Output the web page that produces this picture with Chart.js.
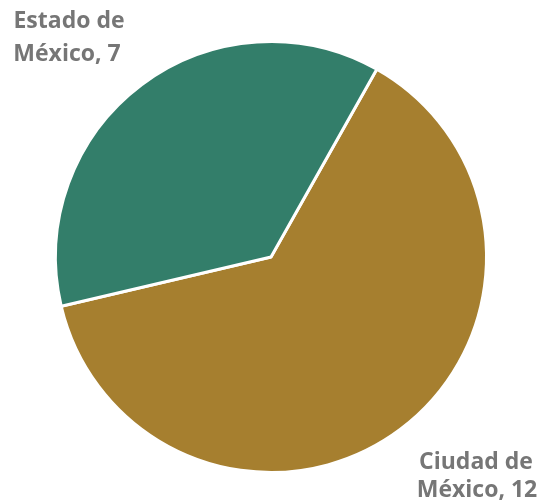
<!DOCTYPE html>
<html>
<head>
<meta charset="utf-8">
<script src="https://cdn.jsdelivr.net/npm/chart.js@4"></script>
<style>
    html, body { margin: 0; padding: 0; background: #fff; }
    #wrap { width: 541px; height: 503px; }
</style>
</head>
<body>
<div id="wrap"><canvas id="chart" width="541" height="503"></canvas></div>
<script>
const categories = ['Ciudad de México', 'Estado de México'];
const values = [12, 7];
const sliceColors = ['#a67f2f', '#337e6a'];

// label text lines and where they sit (relative to canvas)
const labelLines = [
    [{ text: 'Ciudad de', x: 476, y: 462 }, { text: 'México, 12', x: 477, y: 490 }],
    [{ text: 'Estado de', x: 69, y: 21 }, { text: 'México, 7', x: 67, y: 54 }]
];

const outerLabels = {
    id: 'outerLabels',
    afterDraw(chart) {
        const ctx = chart.ctx;
        ctx.save();
        ctx.font = 'bold 23px "Open Sans"';
        ctx.fillStyle = '#767676';
        ctx.textAlign = 'center';
        ctx.textBaseline = 'middle';
        labelLines.forEach(lines => lines.forEach(l => ctx.fillText(l.text, l.x, l.y)));
        ctx.restore();
    }
};

new Chart(document.getElementById('chart').getContext('2d'), {
    type: 'pie',
    data: {
        labels: categories,
        datasets: [{
            data: values,
            backgroundColor: sliceColors,
            borderColor: '#ffffff',
            borderWidth: 3
        }]
    },
    options: {
        responsive: false,
        animation: false,
        rotation: 29.4,
        layout: { padding: { left: 54, right: 53, top: 40, bottom: 29 } },
        plugins: {
            legend: { display: false },
            tooltip: { enabled: false }
        }
    },
    plugins: [outerLabels]
});
</script>
</body>
</html>
